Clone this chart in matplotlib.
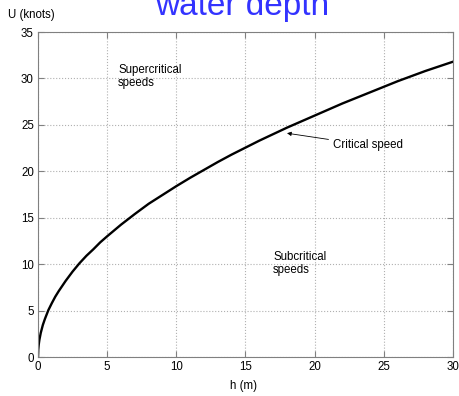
import matplotlib.pyplot as plt

plt.rcParams['font.family'] = ['Liberation Sans', 'DejaVu Sans']

# critical speed curve
depth_m = [0, 0.02, 0.05, 0.1, 0.2, 0.35, 0.5, 0.75, 1, 1.25, 1.5, 2, 2.5,
           3, 3.5, 4, 4.5, 5, 6, 7, 8, 9, 10, 11, 12, 13, 14, 15, 16, 17, 18,
           19, 20, 21, 22, 23, 24, 25, 26, 27, 28, 29, 30]
speed_kn = [0, 0.82, 1.3, 1.84, 2.6, 3.45, 4.1, 5.05, 5.8, 6.5, 7.1, 8.2,
            9.2, 10.1, 10.9, 11.6, 12.35, 13.0, 14.25, 15.4, 16.5, 17.45,
            18.4, 19.3, 20.15, 21.0, 21.8, 22.55, 23.3, 24.0, 24.7, 25.35,
            26.0, 26.65, 27.3, 27.9, 28.5, 29.1, 29.7, 30.25, 30.8, 31.3, 31.8]
x_ticks = [0, 5, 10, 15, 20, 25, 30]
y_ticks = [0, 5, 10, 15, 20, 25, 30, 35]

fs = 8.3

fig = plt.figure(figsize=(4.6, 3.96), dpi=100)
ax = fig.add_axes([38 / 460, 1 - 357 / 396, 415 / 460, 325 / 396])

ax.plot(depth_m, speed_kn, color='black', lw=1.7)

ax.set_xlim(0, 30)
ax.set_ylim(0, 35)
ax.set_xticks(x_ticks)
ax.set_yticks(y_ticks)
ax.grid(True, linestyle=':', color='#b0b0b0', lw=0.8)
ax.tick_params(direction='in', top=True, right=True, length=4, width=0.8,
               color='#808080', labelsize=fs, pad=3)
for s in ax.spines.values():
    s.set_color('#808080')
    s.set_linewidth(0.8)

ax.text(5.8, 30.2, 'Supercritical\nspeeds', fontsize=fs, va='center', ha='left',
        linespacing=1.05)
ax.text(17.0, 10.05, 'Subcritical\nspeeds', fontsize=fs, va='center', ha='left',
        linespacing=1.05)
ax.annotate('Critical speed', xy=(18.0, 24.1), xytext=(21.3, 22.8),
            fontsize=fs, va='center', ha='left',
            arrowprops=dict(arrowstyle='-|>', color='black', lw=0.6,
                            mutation_scale=6, shrinkA=1, shrinkB=0))

fig.text(242 / 460, 1 - 15 / 396, 'water depth', ha='center', va='baseline',
         fontsize=24, color='#3333ff')
fig.text(8 / 460, 1 - 15 / 396, 'U (knots)', ha='left', va='center', fontsize=fs)
fig.text(244 / 460, 1 - 386 / 396, 'h (m)', ha='center', va='center', fontsize=fs)

fig.savefig('out.png', dpi=100)
